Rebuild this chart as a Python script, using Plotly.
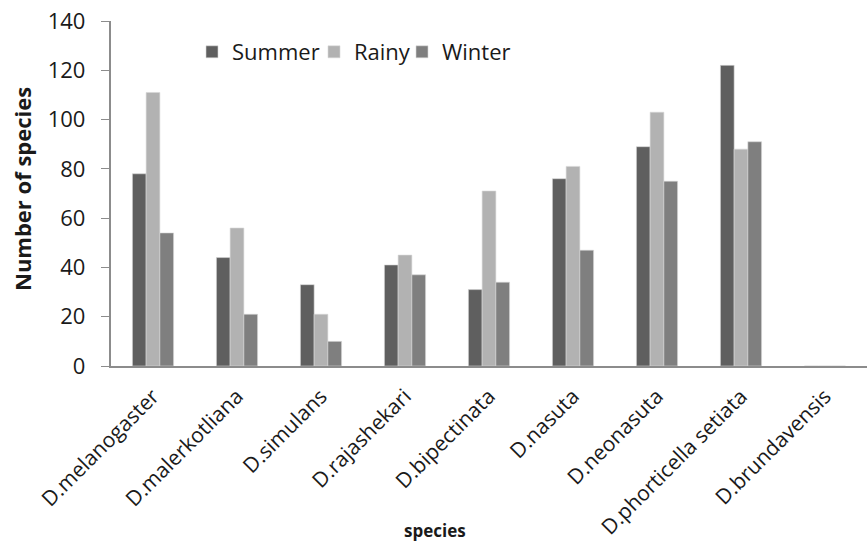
import plotly.graph_objects as go

categories = ["D.melanogaster", "D.malerkotliana", "D.simulans", "D.rajashekari",
              "D.bipectinata", "D.nasuta", "D.neonasuta", "D.phorticella setiata",
              "D.brundavensis"]
summer = [78, 44, 33, 41, 31, 76, 89, 122, 0]
rainy = [111, 56, 21, 45, 71, 81, 103, 88, 0]
winter = [54, 21, 10, 37, 34, 47, 75, 91, 0]
y_ticks = [0, 20, 40, 60, 80, 100, 120, 140]

FONT = "Open Sans"
TXT = "#1a1a1a"
W, H = 867, 544
L, T, B = 111, 21, 178
PW, PH = W - L, H - T - B

fig = go.Figure()
for name, vals, col, lw in [("Summer", summer, "#5f5f5f", 77),
                            ("Rainy", rainy, "#b2b2b2", 43),
                            ("Winter", winter, "#7f7f7f", 0)]:
    fig.add_trace(go.Bar(x=categories, y=vals, name=name, legendwidth=lw,
                         marker=dict(color=col, line=dict(color="#d6d6d6", width=0.6))))

fig.update_layout(
    width=W, height=H,
    barmode="group", bargap=0.51, bargroupgap=0,
    plot_bgcolor="white", paper_bgcolor="white",
    margin=dict(l=L, r=0, t=T, b=B, pad=0),
    font=dict(family=FONT, color=TXT),
    showlegend=True,
    legend=dict(orientation="h", x=(192 - L) / PW, y=1 - (31 - T) / PH,
                xanchor="left", yanchor="top",
                font=dict(size=22, family=FONT, color=TXT), itemwidth=30,
                bgcolor="rgba(0,0,0,0)"),
    xaxis=dict(showline=True, linecolor="#8c8c8c", linewidth=1.5,
               ticks="outside", ticklen=8, tickcolor="rgba(0,0,0,0)",
               automargin=False, tickangle=-45,
               tickfont=dict(size=21, family=FONT, color=TXT)),
    yaxis=dict(range=[0, 140], tickvals=y_ticks,
               ticktext=[f"{v}\u00a0\u00a0" for v in y_ticks],
               showgrid=False, zeroline=False,
               automargin=False, showline=True, linecolor="#8c8c8c", linewidth=1.5,
               ticks="outside", ticklen=8, tickcolor="#8c8c8c",
               tickfont=dict(size=22, family=FONT, color=TXT)),
    annotations=[
        dict(text="<b>Number of species</b>", textangle=-90, xref="paper", yref="paper",
             x=(22 - L) / PW, y=1 - (189 - T) / PH, xanchor="center", yanchor="middle",
             showarrow=False, font=dict(size=22, family=FONT, color=TXT)),
        dict(text="<b>species</b>", xref="paper", yref="paper",
             x=(435 - L) / PW, y=1 - (530 - T) / PH, xanchor="center", yanchor="middle",
             showarrow=False, font=dict(size=17, family=FONT, color=TXT)),
    ],
)

fig.write_html("out.html", config={"displayModeBar": False},
               post_script="document.body.style.margin='0px';")
